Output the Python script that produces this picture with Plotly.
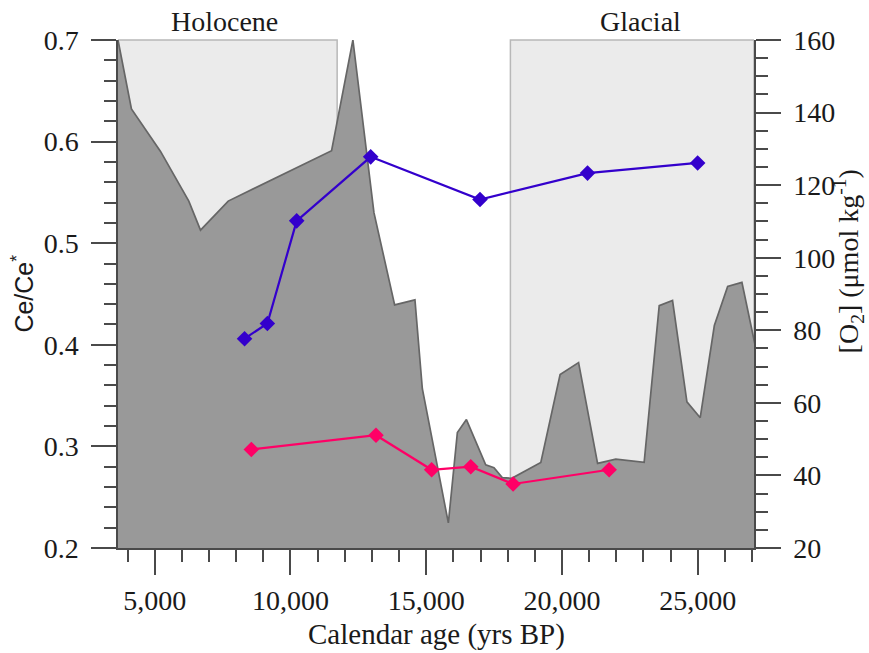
import plotly.graph_objects as go

# Dissolved oxygen reconstruction (right axis), calendar age in years BP
o2_age = [3650, 4145, 5216, 6257, 6688, 7708, 11515, 12300, 13075, 13837, 14585,
          14857, 15815, 16147, 16480, 17190, 17495, 17800, 18150, 19220, 19930,
          20610, 21310, 21980, 23025, 23580, 24070, 24600, 25090, 25610, 26100,
          26625, 27100]
o2_value = [160, 141.0, 129.3, 115.6, 107.6, 115.6, 129.5, 160, 112.4, 87.0, 88.4,
            63.9, 26.9, 51.8, 55.4, 42.9, 42.1, 39.4, 39.2, 43.6, 67.8,
            71.1, 43.3, 44.5, 43.6, 86.8, 88.2, 60.3, 55.9, 81.3, 92.1,
            93.2, 76.3]

# Ce anomaly series (left axis)
blue_age = [8310, 9150, 10230, 12955, 16980, 20940, 24995]
blue_ce = [0.406, 0.421, 0.522, 0.585, 0.543, 0.569, 0.579]

pink_age = [8560, 13150, 15200, 16640, 18200, 21735]
pink_ce = [0.297, 0.311, 0.277, 0.280, 0.263, 0.277]

# Climate intervals shaded in the background
period_names = ["Holocene", "Glacial"]
period_start = [3650, 18100]
period_end = [11720, 27070]
period_label_x = [7560, 22900]

x_range = [3650, 27070]
ce_range = [0.2, 0.7]
o2_range = [20, 160]

SERIF = "Liberation Serif"
SANS = "Liberation Sans"
AXIS = "#4a4a4a"
TXT = "#1a1a1a"

fig = go.Figure()

fig.add_trace(go.Scatter(
    x=o2_age, y=o2_value, yaxis="y", mode="lines",
    line=dict(color="#666666", width=1.7),
    fill="tozeroy", fillcolor="#999999",
    hoverinfo="skip", showlegend=False,
))

fig.add_trace(go.Scatter(
    x=blue_age, y=blue_ce, yaxis="y2", mode="lines+markers",
    line=dict(color="#3300cc", width=2.2),
    marker=dict(symbol="diamond", size=12, color="#3300cc"),
    showlegend=False,
))

fig.add_trace(go.Scatter(
    x=pink_age, y=pink_ce, yaxis="y2", mode="lines+markers",
    line=dict(color="#ff0066", width=2.2),
    marker=dict(symbol="diamond", size=12, color="#ff0066"),
    showlegend=False,
))

shapes = []
annotations = []
for name, x0, x1, lx in zip(period_names, period_start, period_end, period_label_x):
    shapes.append(dict(
        type="rect", xref="x", yref="paper", x0=x0, x1=x1, y0=0, y1=1,
        fillcolor="#ebebeb", line=dict(color="#b8b8b8", width=1.5), layer="below",
    ))
    annotations.append(dict(
        text=name, xref="x", yref="paper", x=lx, y=1, xanchor="center",
        yanchor="bottom", yshift=1, showarrow=False,
        font=dict(family=SERIF, size=28, color=TXT),
    ))

annotations.append(dict(
    text="Ce/Ce<sup>*</sup>", xref="paper", yref="paper", x=-0.150, y=0.5,
    xanchor="center", yanchor="middle", textangle=-90, showarrow=False,
    font=dict(family=SANS, size=25, color=TXT),
))
annotations.append(dict(
    text="[O<sub>2</sub>] (μmol kg<sup>-1</sup>)", xref="paper", yref="paper",
    x=1.150, y=0.565, xanchor="center", yanchor="middle", textangle=-90,
    showarrow=False, font=dict(family=SERIF, size=28, color=TXT),
))
annotations.append(dict(
    text="Calendar age (yrs BP)", xref="paper", yref="paper", x=0.5, y=-0.171,
    xanchor="center", yanchor="middle", showarrow=False,
    font=dict(family=SERIF, size=29, color=TXT),
))

tick_font = dict(family=SERIF, size=28, color=TXT)

fig.update_layout(
    width=869, height=653,
    margin=dict(l=117.5, r=115, t=40, b=104.5),
    paper_bgcolor="white", plot_bgcolor="rgba(0,0,0,0)",
    shapes=shapes, annotations=annotations,
    xaxis=dict(
        range=x_range, tick0=0, dtick=5000, tickformat=",d",
        showline=True, linecolor=AXIS, linewidth=1.5,
        ticks="outside", ticklen=25, tickwidth=1.5, tickcolor=AXIS,
        minor=dict(dtick=1000, ticks="outside", ticklen=12, tickwidth=1.5, tickcolor=AXIS),
        showgrid=False, zeroline=False, tickfont=tick_font, ticklabelstandoff=2,
    ),
    yaxis=dict(
        range=o2_range, side="right", tick0=0, dtick=20,
        showline=True, linecolor=AXIS, linewidth=1.5,
        ticks="outside", ticklen=25, tickwidth=1.5, tickcolor=AXIS,
        minor=dict(dtick=5, ticks="outside", ticklen=12, tickwidth=1.5, tickcolor=AXIS),
        showgrid=False, zeroline=False, tickfont=tick_font, ticklabelstandoff=7,
    ),
    yaxis2=dict(
        range=ce_range, side="left", overlaying="y", tick0=0, dtick=0.1,
        tickformat=".1f",
        showline=True, linecolor=AXIS, linewidth=1.5,
        ticks="outside", ticklen=25, tickwidth=1.5, tickcolor=AXIS,
        minor=dict(dtick=0.02, ticks="outside", ticklen=12, tickwidth=1.5, tickcolor=AXIS),
        showgrid=False, zeroline=False, tickfont=tick_font, ticklabelstandoff=7,
    ),
)

fig.write_html("out.html")
